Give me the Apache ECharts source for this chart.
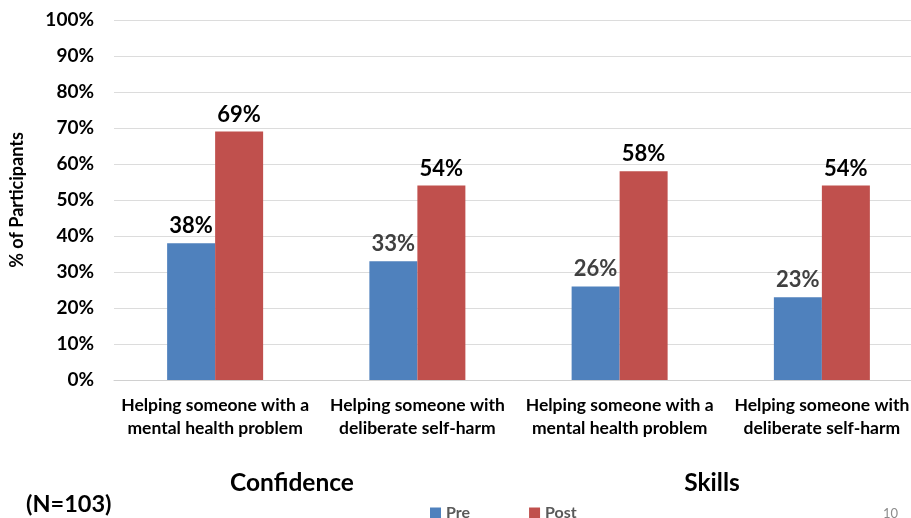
<!DOCTYPE html>
<html>
<head>
<meta charset="utf-8">
<script src="https://cdn.jsdelivr.net/npm/echarts@6/dist/echarts.min.js"></script>
<style>html,body{margin:0;padding:0;background:#fff;}#c{width:911px;height:518px;}</style>
</head>
<body>
<div id="c"></div>
<script>
const categories = [
  "Helping someone with a\nmental health problem",
  "Helping someone with\ndeliberate self-harm",
  "Helping someone with a\nmental health problem",
  "Helping someone with\ndeliberate self-harm"
];
const preValues = [38, 33, 26, 23];
const postValues = [69, 54, 58, 54];
const groupLabels = ["Confidence", "Skills"];
const seriesNames = ["Pre", "Post"];
const yTicks = [0, 10, 20, 30, 40, 50, 60, 70, 80, 90, 100];

const FONT = 'Lato, "Open Sans", sans-serif';
const preLabelColors = ["#000000", "#404040", "#404040", "#404040"];

const chart = echarts.init(document.getElementById('c'), null, {renderer: 'canvas'});
chart.setOption({
  animation: false,
  textStyle: {fontFamily: FONT},
  grid: {left: 114, right: -12, top: 20, bottom: 138, containLabel: false, outerBoundsMode: 'none'},
  title: [
    {text: groupLabels[0], left: 287, top: 466, textAlign: 'center',
     textStyle: {fontFamily: FONT, fontSize: 24.5, fontWeight: 'bold', color: '#000'}},
    {text: groupLabels[1], left: 707, top: 466, textAlign: 'center',
     textStyle: {fontFamily: FONT, fontSize: 24.5, fontWeight: 'bold', color: '#000'}},
    {text: "(N=103)", left: 21, top: 487,
     textStyle: {fontFamily: FONT, fontSize: 23.5, fontWeight: 'bold', color: '#000'}},
    {text: "10", left: 878, top: 502,
     textStyle: {fontFamily: FONT, fontSize: 13, fontWeight: 'normal', color: '#8c8c8c'}}
  ],
  legend: {
    data: seriesNames,
    left: 425, top: 500,
    itemWidth: 11, itemHeight: 11, itemGap: 59,
    icon: 'rect',
    textStyle: {fontFamily: FONT, fontSize: 16, fontWeight: 'bold', color: '#595959'}
  },
  xAxis: {
    type: 'category',
    data: categories,
    axisLine: {show: true, lineStyle: {color: '#d0d0d0', width: 1}},
    axisTick: {show: false},
    axisLabel: {interval: 0, fontFamily: FONT, fontSize: 17.5, fontWeight: 'bold', color: '#000',
                lineHeight: 23, margin: 14}
  },
  yAxis: {
    type: 'value',
    min: 0, max: 100, interval: 10,
    name: '% of Participants',
    nameLocation: 'middle',
    nameGap: 88,
    nameRotate: 90,
    nameTextStyle: {fontFamily: FONT, fontSize: 18, fontWeight: 'bold', color: '#000'},
    axisLine: {show: false},
    axisTick: {show: false},
    splitLine: {lineStyle: {color: '#dcdcdc', width: 1}},
    axisLabel: {fontFamily: FONT, fontSize: 19, fontWeight: 'bold', color: '#000', margin: 20,
                formatter: v => yTicks.includes(v) ? v + '%' : ''}
  },
  series: [
    {
      name: seriesNames[0], type: 'bar',
      data: preValues.map((v, i) => ({value: v, label: {color: preLabelColors[i]}})),
      barWidth: 48, barGap: '0%',
      itemStyle: {color: '#4f81bd'},
      label: {show: true, position: 'top', distance: 6, formatter: '{c}%',
              fontFamily: FONT, fontSize: 22, fontWeight: 'bold'}
    },
    {
      name: seriesNames[1], type: 'bar',
      data: postValues,
      barWidth: 48, barGap: '0%',
      itemStyle: {color: '#c0504d'},
      label: {show: true, position: 'top', distance: 6, formatter: '{c}%',
              fontFamily: FONT, fontSize: 22, fontWeight: 'bold', color: '#000'}
    }
  ]
});
</script>
</body>
</html>
